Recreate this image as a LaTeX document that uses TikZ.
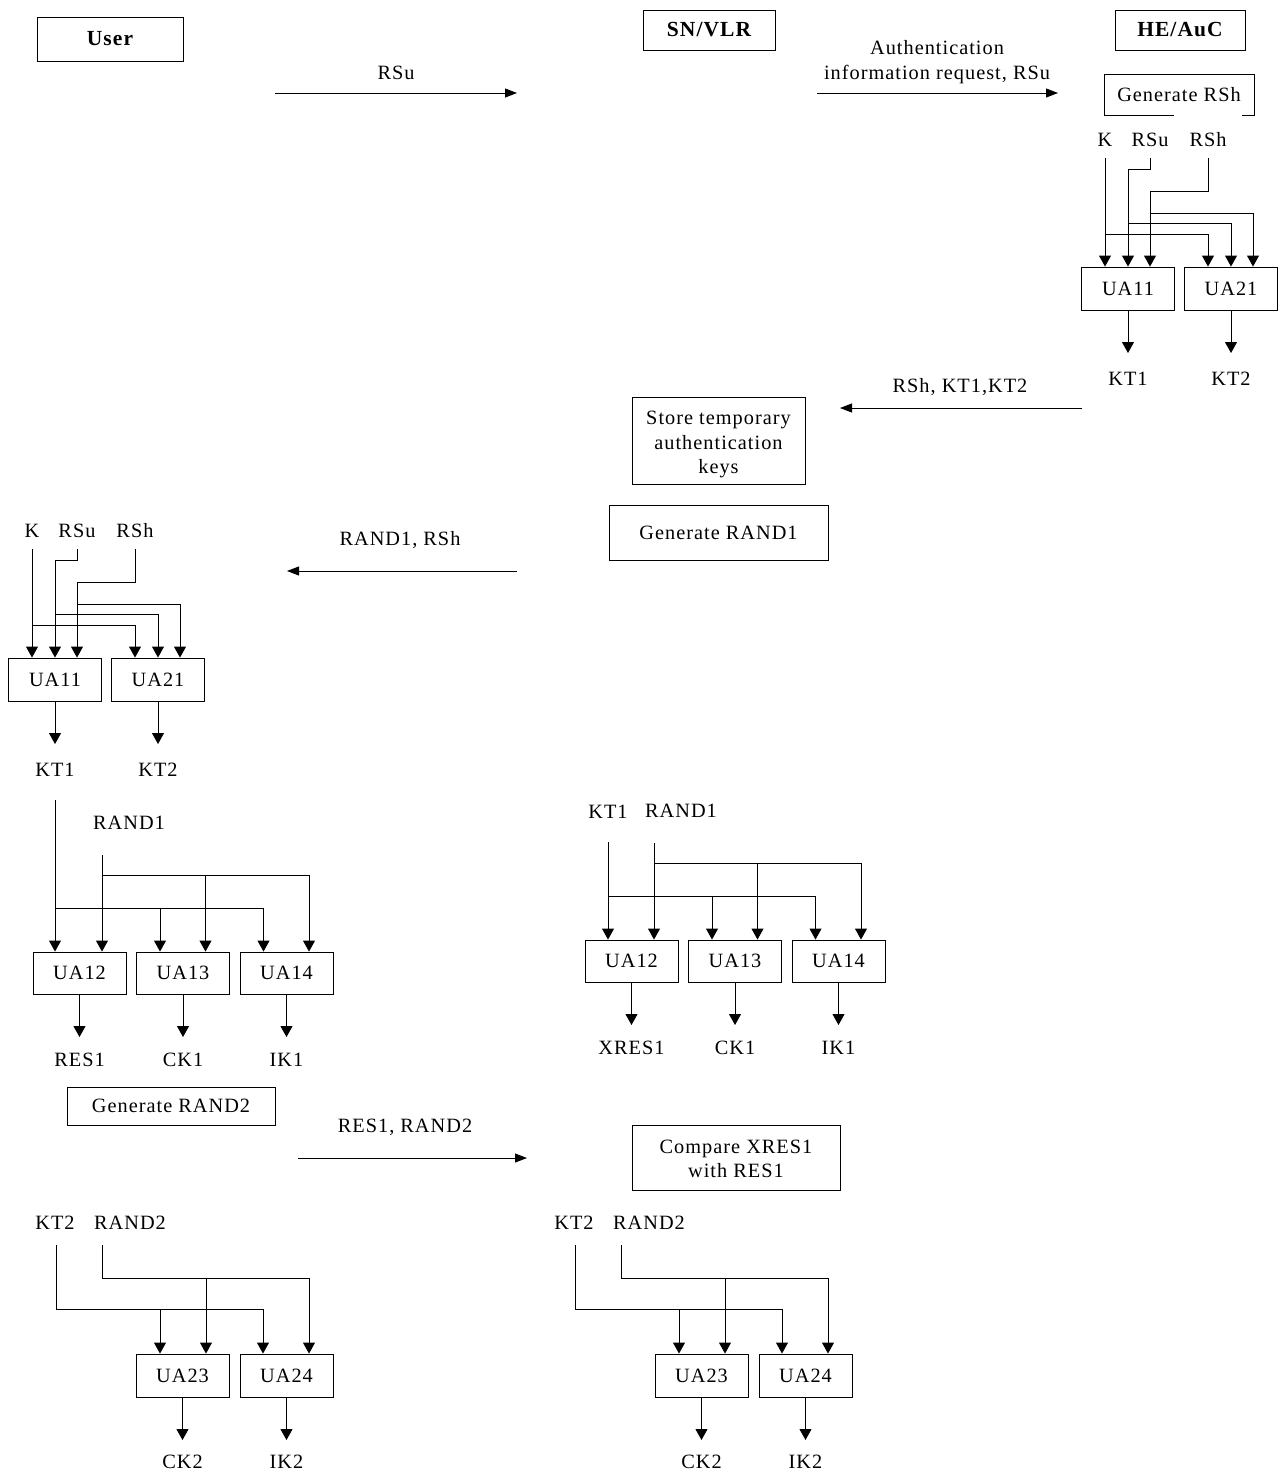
\documentclass[tikz,border=0pt]{standalone}
\usepackage{fontspec}
\setmainfont[LetterSpace=5]{Liberation Serif}
\usetikzlibrary{arrows.meta,calc}

\tikzset{
  box/.style={draw, line width=0.9pt, inner sep=0pt, align=center},
  lbl/.style={inner sep=0pt, align=center},
  ln/.style={line width=0.9pt},
  arr/.style={ln, -{Triangle[length=11pt,width=12pt]}},
  msg/.style={ln, -{Triangle[length=12pt,width=9pt]}},
  uabox/.style={box, minimum width=93pt, minimum height=43pt},
  titlefont/.style={font=\fontsize{21.5}{26}\selectfont\bfseries},
}

% UA11 / UA21 block
\newcommand\blockUAa[3]{%
\begin{scope}[shift={(#2,#3)}]
\node[uabox] (#1ua11) at (46,21.5) {UA11};
\node[uabox] (#1ua21) at (149,21.5) {UA21};
\node[lbl] (#1K) at (23,-127) {K};
\node[lbl] (#1RSu) at (68,-127) {RSu};
\node[lbl] (#1RSh) at (126,-127) {RSh};
\node[lbl] (#1KT1) at (46,112) {KT1};
\node[lbl] (#1KT2) at (149,112) {KT2};
\draw[arr] ($(#1K)+(0,18)$) -- ([xshift=-23pt]#1ua11.north);
\draw[arr] (23,-33) -| ([xshift=-23pt]#1ua21.north);
\draw[arr] ($(#1RSu)+(0,18)$) |- (46,-98) -- (#1ua11.north);
\draw[arr] (46,-44) -| (#1ua21.north);
\draw[arr] ($(#1RSh)+(0,18)$) |- (68,-76) -- ([xshift=22pt]#1ua11.north);
\draw[arr] (68,-54) -| ([xshift=22pt]#1ua21.north);
\draw[arr] (#1ua11.south) -- ($(#1KT1)+(0,-26)$);
\draw[arr] (#1ua21.south) -- ($(#1KT2)+(0,-26)$);
\end{scope}}

% UA12 / UA13 / UA14 block
\newcommand\blockUAb[5]{%
\begin{scope}[shift={(#2,#3)}]
\node[uabox, minimum height=42pt] (#1ua12) at (46.5,21) {UA12};
\node[uabox, minimum height=42pt] (#1ua13) at (150,21) {UA13};
\node[uabox, minimum height=42pt] (#1ua14) at (253.5,21) {UA14};
\node[lbl] (#1rand) at (96,-129) {RAND1};
\node[lbl] (#1oa) at (46.5,108) {#5};
\node[lbl] (#1ob) at (150,108) {CK1};
\node[lbl] (#1oc) at (253.5,108) {IK1};
\draw[arr] ($(#4)+(0,30)$) -- (#4 |- #1ua12.north);
\draw[arr] (23,-44) -| ([xshift=-23pt]#1ua14.north);
\draw[arr] (127,-44) -- ([xshift=-23pt]#1ua13.north);
\draw[arr] ($(#1rand)+(-27,32)$) -- ([xshift=22.5pt]#1ua12.north);
\draw[arr] (69,-77) -| ([xshift=22.5pt]#1ua14.north);
\draw[arr] (172.5,-77) -- ([xshift=22.5pt]#1ua13.north);
\draw[arr] (#1ua12.south) -- ($(#1oa)+(0,-23)$);
\draw[arr] (#1ua13.south) -- ($(#1ob)+(0,-23)$);
\draw[arr] (#1ua14.south) -- ($(#1oc)+(0,-23)$);
\end{scope}}

% UA23 / UA24 block
\newcommand\blockUAc[3]{%
\begin{scope}[shift={(#2,#3)}]
\node[uabox] (#1ua23) at (46.5,21.5) {UA23};
\node[uabox] (#1ua24) at (150.5,21.5) {UA24};
\node[lbl] (#1kt) at (-81,-131) {KT2};
\node[lbl] (#1rand) at (-6,-131) {RAND2};
\node[lbl] (#1ck) at (46.5,108) {CK2};
\node[lbl] (#1ik) at (150.5,108) {IK2};
\draw[arr] ($(#1kt)+(1,22)$) |- (127,-45) -- ([xshift=-23.5pt]#1ua24.north);
\draw[arr] (24,-45) -- ([xshift=-22.5pt]#1ua23.north);
\draw[arr] ($(#1rand)+(-28,22)$) |- (173,-76) -- ([xshift=22.5pt]#1ua24.north);
\draw[arr] (70,-76) -- ([xshift=23.5pt]#1ua23.north);
\draw[arr] (#1ua23.south) -- ($(#1ck)+(0,-22)$);
\draw[arr] (#1ua24.south) -- ($(#1ik)+(0,-22)$);
\end{scope}}

\begin{document}
\begin{tikzpicture}[x=1pt,y=-1pt,font=\fontsize{20.3}{24.5}\selectfont]
\useasboundingbox[fill=white] (0,0) rectangle (1284,1475);

% entities
\node[box, minimum width=146pt, minimum height=44pt, titlefont] (user) at (110,39) {User};
\node[box, minimum width=132pt, minimum height=40pt, titlefont] (sn) at (709,30) {SN/VLR};
\node[box, minimum width=130pt, minimum height=40pt, titlefont] (he) at (1180,30) {HE/AuC};

% message 1
\coordinate (m1s) at (275,93);
\coordinate (m1e) at (517,93);
\draw[msg] (m1s) -- (m1e);
\node[lbl] (m1l) at (396,73) {RSu};

% message 2
\coordinate (m2s) at (817,93);
\coordinate (m2e) at (1058,93);
\draw[msg] (m2s) -- (m2e);
\node[lbl] (m2l) at (937,62) {Authentication\\information request, RSu};

% Generate RSh
\node[box, minimum width=150pt, minimum height=41pt] (genrsh) at (1179,94.5) {Generate RSh};
\draw[white, line width=1.6pt] (1174,115) -- (1242,115);

% HE/AuC block
\blockUAa{R}{1082}{267}

% message 3
\coordinate (m3s) at (1082,408);
\coordinate (m3e) at (840,408);
\draw[msg] (m3s) -- (m3e);
\node[lbl] (m3l) at (960,387) {RSh, KT1,KT2};

% SN boxes
\node[box, minimum width=173pt, minimum height=87pt] (store) at (718.5,440.5) {};
\node[lbl] (storetxt) at (718.5,444.5) {Store temporary\\authentication\\keys};
\node[box, minimum width=219pt, minimum height=55pt] (genr1) at (718.5,532.5) {Generate RAND1};

% message 4
\coordinate (m4s) at (517,571);
\coordinate (m4e) at (287,571);
\draw[msg] (m4s) -- (m4e);
\node[lbl] (m4l) at (400,540) {RAND1, RSh};

% user UA11/UA21 block
\blockUAa{L}{9}{658}

% user UA12-14
\blockUAb{LB}{33}{952}{LKT1}{RES1}

% SN UA12-14
\node[lbl] (RBkt) at (608,812) {KT1};
\blockUAb{RB}{585}{940}{RBkt}{XRES1}

% Generate RAND2
\node[box, minimum width=208pt, minimum height=38pt] (genr2) at (171,1106) {Generate RAND2};

% message 5
\coordinate (m5s) at (298,1158);
\coordinate (m5e) at (527,1158);
\draw[msg] (m5s) -- (m5e);
\node[lbl] (m5l) at (405,1127) {RES1, RAND2};

% compare
\node[box, minimum width=208pt, minimum height=65pt] (cmp) at (736,1157.5) {};
\node[lbl] (cmptxt) at (736,1159) {Compare XRES1\\with RES1};

% UA23/24 blocks
\blockUAc{LC}{136}{1354}
\blockUAc{RC}{655}{1354}
\end{tikzpicture}
\end{document}
